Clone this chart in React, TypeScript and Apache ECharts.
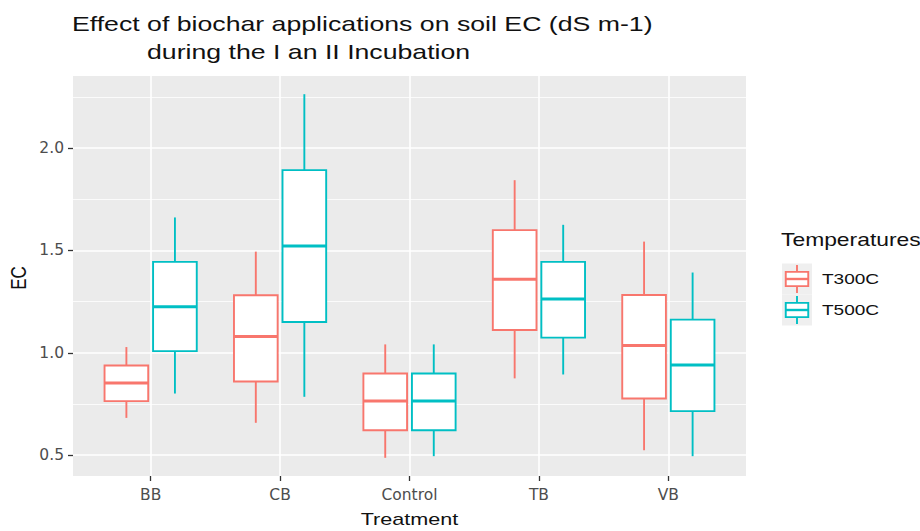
import React, { useEffect, useRef } from 'react';
import * as echarts from 'echarts';

// ---- data ----
const categories = ['BB', 'CB', 'Control', 'TB', 'VB'];
const seriesNames = ['T300C', 'T500C'];
// each row: [lower whisker, Q1, median, Q3, upper whisker]
const t300Values = [
  [0.682, 0.764, 0.852, 0.938, 1.028],
  [0.658, 0.860, 1.079, 1.281, 1.494],
  [0.487, 0.622, 0.764, 0.899, 1.041],
  [0.875, 1.111, 1.359, 1.599, 1.843],
  [0.524, 0.777, 1.036, 1.282, 1.543],
];
const t500Values = [
  [0.801, 1.008, 1.225, 1.444, 1.661],
  [0.785, 1.150, 1.521, 1.892, 2.263],
  [0.495, 0.622, 0.764, 0.899, 1.041],
  [0.894, 1.074, 1.263, 1.444, 1.625],
  [0.495, 0.715, 0.940, 1.162, 1.392],
];
const yTickValues = [0.5, 1.0, 1.5, 2.0];
const titleLines = ['Effect of biochar applications on soil EC (dS m-1)', 'during the I an II Incubation'];
const xAxisTitle = 'Treatment';
const yAxisTitle = 'EC';
const legendTitle = 'Temperatures';

// ---- styles ----
const seriesColors = ['#F8766D', '#00BFC4'];
const PANEL = '#EBEBEB';
const STRETCH = 1.27;
const FONT = "'Liberation Sans', Arial, sans-serif";
const TICK_FONT = "'DejaVu Sans', sans-serif";

const dodge = 0.1875;
const boxWidth = 0.3375;
const LW = 1.9;

function makeSeries(name: string, values: number[][], color: string, offset: number) {
  return {
    type: 'custom',
    name,
    clip: false,
    data: values.map((v, i) => [i, ...v]),
    encode: { x: 0, y: [1, 2, 3, 4, 5] },
    renderItem: (_params: any, api: any) => {
      const xi = api.value(0) + offset;
      const pMin = api.coord([xi, api.value(1)]);
      const pQ1 = api.coord([xi, api.value(2)]);
      const pMed = api.coord([xi, api.value(3)]);
      const pQ3 = api.coord([xi, api.value(4)]);
      const pMax = api.coord([xi, api.value(5)]);
      const w = api.size([boxWidth, 0])[0];
      const x0 = pMed[0] - w / 2;
      const ls = { stroke: color, lineWidth: LW };
      return {
        type: 'group',
        children: [
          { type: 'line', shape: { x1: pMax[0], y1: pMax[1], x2: pQ3[0], y2: pQ3[1] }, style: ls },
          { type: 'line', shape: { x1: pQ1[0], y1: pQ1[1], x2: pMin[0], y2: pMin[1] }, style: ls },
          {
            type: 'rect',
            shape: { x: x0, y: pQ3[1], width: w, height: pQ1[1] - pQ3[1] },
            style: { fill: '#ffffff', stroke: color, lineWidth: LW },
          },
          { type: 'line', shape: { x1: x0, y1: pMed[1], x2: x0 + w, y2: pMed[1] }, style: { stroke: color, lineWidth: 3 } },
        ],
      };
    },
  };
}

function legendKey(y0: number, color: string) {
  const x0 = 782;
  const kw = 30;
  const kh = 31;
  const ls = { stroke: color, lineWidth: LW };
  const bx0 = x0 + kw * 0.125;
  const bx1 = x0 + kw * 0.875;
  const cx = x0 + kw / 2;
  return [
    { type: 'rect', shape: { x: x0, y: y0, width: kw, height: kh }, style: { fill: '#EFEFEF' } },
    { type: 'line', shape: { x1: cx, y1: y0 + kh * 0.05, x2: cx, y2: y0 + kh * 0.27 }, style: ls },
    { type: 'line', shape: { x1: cx, y1: y0 + kh * 0.73, x2: cx, y2: y0 + kh * 0.95 }, style: ls },
    {
      type: 'rect',
      shape: { x: bx0, y: y0 + kh * 0.27, width: bx1 - bx0, height: kh * 0.46 },
      style: { fill: '#ffffff', stroke: color, lineWidth: LW },
    },
    { type: 'line', shape: { x1: bx0, y1: y0 + kh / 2, x2: bx1, y2: y0 + kh / 2 }, style: { stroke: color, lineWidth: 2.4 } },
  ];
}

function stretchedText(text: string, x: number, y: number, size: number, align = 'left', extra: any = {}) {
  return {
    type: 'text',
    x,
    y,
    scaleX: STRETCH,
    ...extra,
    style: {
      text,
      fontSize: size,
      fontFamily: FONT,
      fill: '#111111',
      align,
      verticalAlign: 'middle',
    },
  };
}

export default function App() {
  const ref = useRef<HTMLDivElement>(null);

  useEffect(() => {
    document.body.style.margin = '0';
    if (!ref.current) return;
    const chart = echarts.init(ref.current, undefined, { renderer: 'svg' });

    const all = [...t300Values, ...t500Values];
    const lo = Math.min(...all.map((r) => r[0]));
    const hi = Math.max(...all.map((r) => r[4]));
    const pad = (hi - lo) * 0.05;

    const option: any = {
      animation: false,
      backgroundColor: '#ffffff',
      grid: {
        left: 73,
        right: 174,
        top: 76,
        bottom: 55,
        show: true,
        backgroundColor: PANEL,
        borderWidth: 0,
      },
      xAxis: {
        type: 'value',
        min: -0.6,
        max: 4.6,
        axisLine: { show: false, onZero: false },
        axisTick: {
          show: true,
          customValues: categories.map((_, i) => i),
          length: 5,
          lineStyle: { color: '#333333', width: 1.3 },
        },
        axisLabel: {
          customValues: categories.map((_, i) => i),
          formatter: (v: number) => categories[Math.round(v)] ?? '',
          color: '#4D4D4D',
          fontSize: 15.5,
          fontFamily: TICK_FONT,
          margin: 11,
        },
        splitLine: { show: true, lineStyle: { color: '#ffffff', width: 1.6 } },
      },
      yAxis: {
        type: 'value',
        min: lo - pad,
        max: hi + pad,
        splitNumber: 4,
        axisLine: { show: false, onZero: false },
        axisTick: {
          show: true,
          customValues: yTickValues,
          length: 5,
          lineStyle: { color: '#333333', width: 1.3 },
        },
        axisLabel: {
          customValues: yTickValues,
          formatter: (v: number) => v.toFixed(1),
          color: '#4D4D4D',
          fontSize: 15.5,
          fontFamily: TICK_FONT,
          margin: 9,
        },
        splitLine: { show: true, lineStyle: { color: '#ffffff', width: 1.6 } },
        minorTick: { show: false, splitNumber: 2 },
        minorSplitLine: { show: true, lineStyle: { color: '#ffffff', width: 0.8 } },
      },
      series: [
        makeSeries(seriesNames[0], t300Values, seriesColors[0], -dodge),
        makeSeries(seriesNames[1], t500Values, seriesColors[1], dodge),
      ],
      graphic: [
        stretchedText(titleLines[0], 72, 24, 21),
        stretchedText(titleLines[1], 147, 52, 21),
        stretchedText(xAxisTitle, 409.5, 519, 17, 'center'),
        {
          type: 'text',
          x: 18,
          y: 278,
          rotation: Math.PI / 2,
          scaleY: STRETCH,
          style: {
            text: yAxisTitle,
            fontSize: 17,
            fontFamily: FONT,
            fill: '#111111',
            align: 'center',
            verticalAlign: 'middle',
          },
        },
        stretchedText(legendTitle, 781, 239, 18),
        ...legendKey(263.5, seriesColors[0]),
        ...legendKey(294.5, seriesColors[1]),
        stretchedText(seriesNames[0], 822, 279, 15),
        stretchedText(seriesNames[1], 822, 310, 15),
      ],
    };

    chart.setOption(option);
    return () => chart.dispose();
  }, []);

  return <div ref={ref} style={{ width: 920, height: 531 }} />;
}
